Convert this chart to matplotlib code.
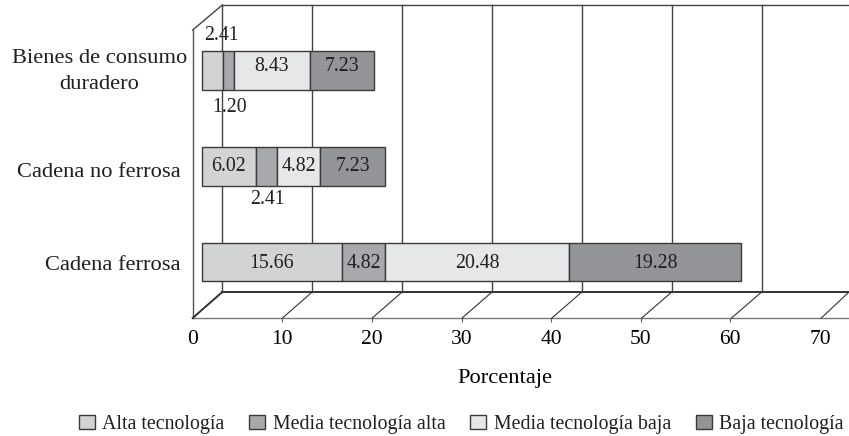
import matplotlib.pyplot as plt
from matplotlib.transforms import Affine2D

plt.rcParams['font.family'] = ['Liberation Serif', 'DejaVu Serif']
plt.rcParams['text.color'] = '#231f20'

# data
categorias = ["Cadena ferrosa", "Cadena no ferrosa", "Bienes de consumo\nduradero"]
alta = [15.66, 6.02, 2.41]
media_alta = [4.82, 2.41, 1.20]
media_baja = [20.48, 4.82, 8.43]
baja = [19.28, 7.23, 7.23]
series = [alta, media_alta, media_baja, baja]
nombres = ["Alta tecnología", "Media tecnología alta", "Media tecnología baja", "Baja tecnología"]
colores = ["#d1d3d4", "#a7a9ac", "#e6e7e8", "#939598"]
ticks = [0, 10, 20, 30, 40, 50, 60, 70]

W, H = 849, 436
fig = plt.figure(figsize=(W / 100, H / 100), dpi=100)
# axes box = front floor line up to the top of the back wall
left, right, bottom, top = 192.7, 849, 318, 5
ax = fig.add_axes([left / W, 1 - bottom / H, (right - left) / W, (bottom - top) / H])

escala = 8.96  # px per unit
ax.set_xlim(-1, (right - 201.7) / escala)
ax.set_ylim((262 - bottom) / 95.75, (262 - top) / 95.75)
for s in ax.spines.values():
    s.set_visible(False)

# frame in pixels
px = Affine2D().scale(1, -1).translate(0, H)
def linea(x, y, lw=1.0, c='#555555'):
    ax.plot(x, y, color=c, lw=lw, transform=px, clip_on=False, zorder=1)

def frente(v):
    return left + v * 8.98
def fondo(v):
    return 222.3 + v * 8.99

linea([left, left], [30, bottom], 1.0, '#555555')
linea([left, fondo(0)], [30, top], 1.0, '#444444')
linea([fondo(0), W], [top, top], 1.0, '#444444')
linea([left, W], [bottom, bottom], 1.0, '#777777')
linea([fondo(0), W], [292, 292], 1.4, '#333333')
for v in ticks:
    if v < 70:
        linea([fondo(v), fondo(v)], [top, 292], 1.0, '#444444')
    linea([frente(v), min(fondo(v), W)], [bottom, 292], 1.4 if v == 0 else 0.8, '#333333')

# stacked bars
inicio = [0, 0, 0]
for vals, nom, col in zip(series, nombres, colores):
    ax.barh(range(3), vals, left=inicio, height=0.407, color=col, edgecolor='#3a3a3a',
            linewidth=1.0, label=nom, zorder=3)
    inicio = [i + v for i, v in zip(inicio, vals)]

# value labels, small segments get moved off the bar
desvio = {(0, 2): (9, 35), (1, 2): (1, -37), (1, 1): (1, -33)}
alto_fila = [-1, 0, 4]
for j, vals in enumerate(series):
    base = [sum(series[k][i] for k in range(j)) for i in range(3)]
    for i, v in enumerate(vals):
        dx, dy = desvio.get((j, i), (0, alto_fila[i]))
        ax.annotate(f"{v:.2f}", (base[i] + v / 2, i), xytext=(dx * 0.72, dy * 0.72),
                    textcoords='offset points', ha='center', va='center',
                    fontsize=14.3, zorder=5, annotation_clip=False)

# category labels
for cat, borde, yc in zip(categorias, [181, 181, 187], [265, 172, 71]):
    ax.text(borde, yc, cat, transform=px, ha='right', va='center',
            multialignment='center', fontsize=16.2, linespacing=1.5)

ax.set_yticks([])
ax.set_xticks([t - 1 for t in ticks], [str(t) for t in ticks], fontsize=15.5)
ax.tick_params(axis='x', length=3, width=0.8, color='#555555', pad=6)
for t in (ax.xaxis.get_major_ticks()[0], ax.xaxis.get_major_ticks()[-1]):
    t.tick1line.set_visible(False)

ax.set_xlabel("Porcentaje", fontsize=16.2, va='center')
ax.xaxis.set_label_coords((505 - left) / (right - left), (bottom - 378) / (bottom - top))

ax.legend(loc='lower left', bbox_to_anchor=(69 / W, 1 - 444 / H), bbox_transform=fig.transFigure,
          ncols=4, frameon=False, fontsize=14.3, handlelength=0.8, handleheight=0.65,
          handletextpad=0.38, columnspacing=1.25, borderaxespad=0.3, borderpad=0.2)

fig.savefig("out.png", dpi=100)
